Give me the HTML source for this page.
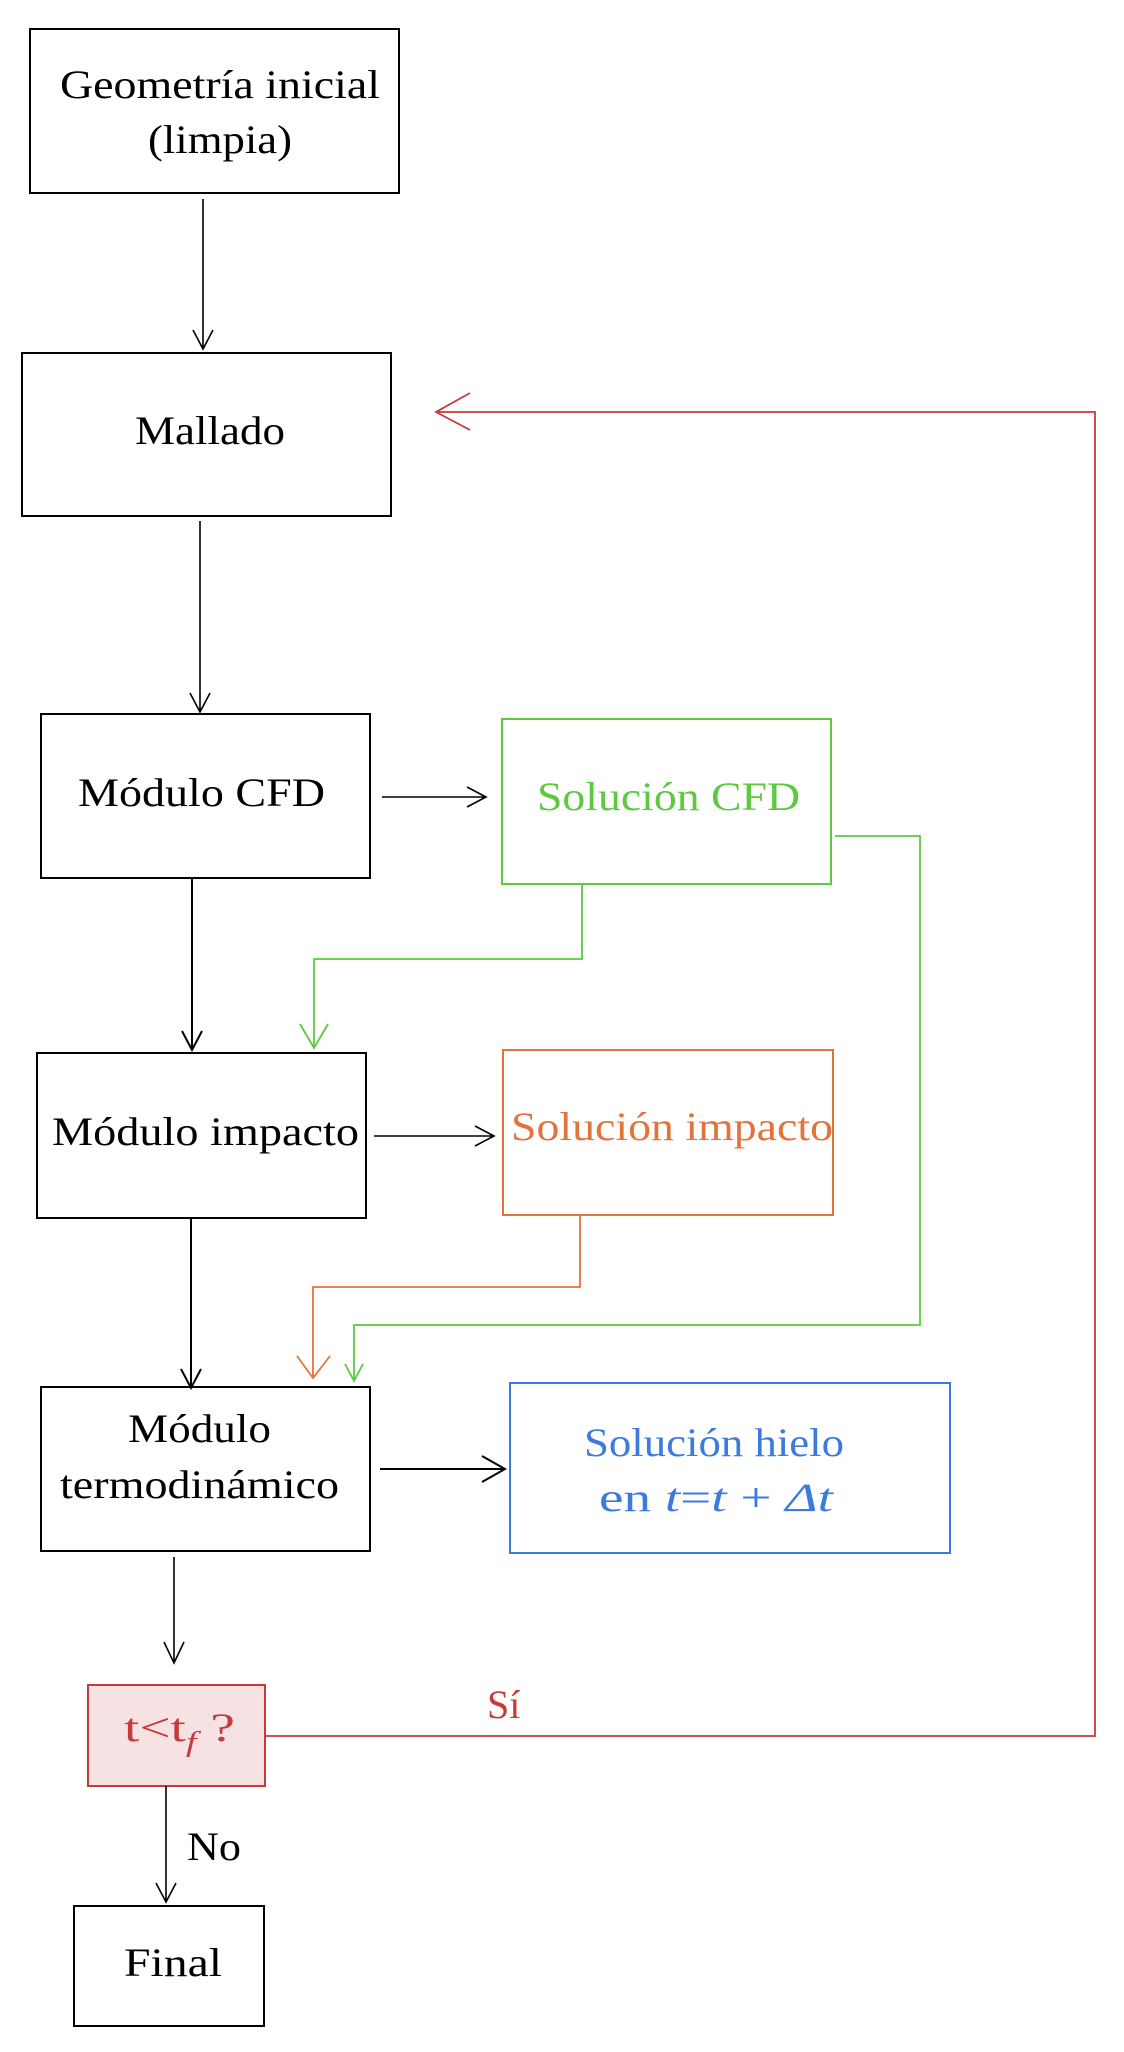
<!DOCTYPE html>
<html><head><meta charset="utf-8"><style>
html,body{margin:0;padding:0;background:#fff;}
svg{display:block;}
text{font-family:"Liberation Serif",serif;font-size:40px;}
</style></head><body>
<svg width="1124" height="2052" viewBox="0 0 1124 2052" xmlns="http://www.w3.org/2000/svg" fill="none">
<g stroke="#000" stroke-width="2">
<rect x="30" y="29" width="369" height="164"/>
<rect x="22" y="353" width="369" height="163"/>
<rect x="41" y="714" width="329" height="164"/>
<rect x="37" y="1053" width="329" height="165"/>
<rect x="41" y="1387" width="329" height="164"/>
<rect x="74" y="1906" width="190" height="120"/>
</g>
<rect x="502" y="719" width="329" height="165" stroke="#5cc93f" stroke-width="2"/>
<rect x="503" y="1050" width="330" height="165" stroke="#e2733a" stroke-width="2"/>
<rect x="510" y="1383" width="440" height="170" stroke="#3b7be0" stroke-width="2"/>
<rect x="88" y="1685" width="177" height="101" fill="#f6e2e2" stroke="#c73a3a" stroke-width="2"/>

<g stroke="#000" stroke-width="1.6">
<path d="M203 199V349M193 330L203 349L213 330"/>
<path d="M200 521V712M190 693L200 712L210 693"/>
<path d="M382 797H486M467 787L486 797L467 807"/>
<path d="M192 878V1050M182 1031L192 1050L202 1031" stroke-width="2"/>
<path d="M374 1136H494M475 1126L494 1136L475 1146"/>
<path d="M191 1218V1388M181 1369L191 1388L201 1369" stroke-width="2"/>
<path d="M380 1469H505M482 1456L505 1469L482 1482" stroke-width="2"/>
<path d="M174 1557V1663M164 1642L174 1663L184 1642"/>
<path d="M166 1786V1902M156 1883L166 1902L176 1883"/>
</g>
<g stroke="#5cc93f" stroke-width="1.8">
<path d="M582 884V959H314V1048M300 1024L314 1048L328 1024"/>
<path d="M835 836H920V1325H354V1381M345 1364L354 1381L363 1364"/>
</g>
<path d="M580 1215V1287H313V1378M297 1356L313 1378L330 1356" stroke="#e2733a" stroke-width="1.8"/>
<path d="M265 1736H1095V412H436M470 393L436 412L470 430" stroke="#c73a3a" stroke-width="1.8"/>

<g fill="#000" stroke="none">
<text x="60" y="98" textLength="320" lengthAdjust="spacingAndGlyphs">Geometría inicial</text>
<text x="148" y="153" textLength="144" lengthAdjust="spacingAndGlyphs">(limpia)</text>
<text x="135" y="444" textLength="150" lengthAdjust="spacingAndGlyphs">Mallado</text>
<text x="78" y="806" textLength="247" lengthAdjust="spacingAndGlyphs">Módulo CFD</text>
<text x="52" y="1145" textLength="307" lengthAdjust="spacingAndGlyphs">Módulo impacto</text>
<text x="128" y="1442" textLength="143" lengthAdjust="spacingAndGlyphs">Módulo</text>
<text x="60" y="1498" textLength="279" lengthAdjust="spacingAndGlyphs">termodinámico</text>
<text x="124" y="1976" textLength="98" lengthAdjust="spacingAndGlyphs">Final</text>
<text x="187" y="1860" textLength="54" lengthAdjust="spacingAndGlyphs">No</text>
</g>
<text x="537" y="810" fill="#5cc93f" textLength="263" lengthAdjust="spacingAndGlyphs">Solución CFD</text>
<text x="511" y="1140" fill="#e2733a" textLength="322" lengthAdjust="spacingAndGlyphs">Solución impacto</text>
<text x="584" y="1456" fill="#3b7be0" textLength="260" lengthAdjust="spacingAndGlyphs">Solución hielo</text>
<text x="599" y="1511" fill="#3b7be0" textLength="234" lengthAdjust="spacingAndGlyphs">en <tspan font-style="italic">t</tspan>=<tspan font-style="italic">t</tspan>  +  <tspan font-style="italic">Δt</tspan></text>
<text x="124" y="1741" fill="#c73a3a" textLength="111" lengthAdjust="spacingAndGlyphs">t&lt;t<tspan font-size="28" font-style="italic" dy="10">f</tspan><tspan dy="-10">  ?</tspan></text>
<text x="487" y="1718" fill="#c73a3a" font-size="38">Sí</text>
</svg>
</body></html>
